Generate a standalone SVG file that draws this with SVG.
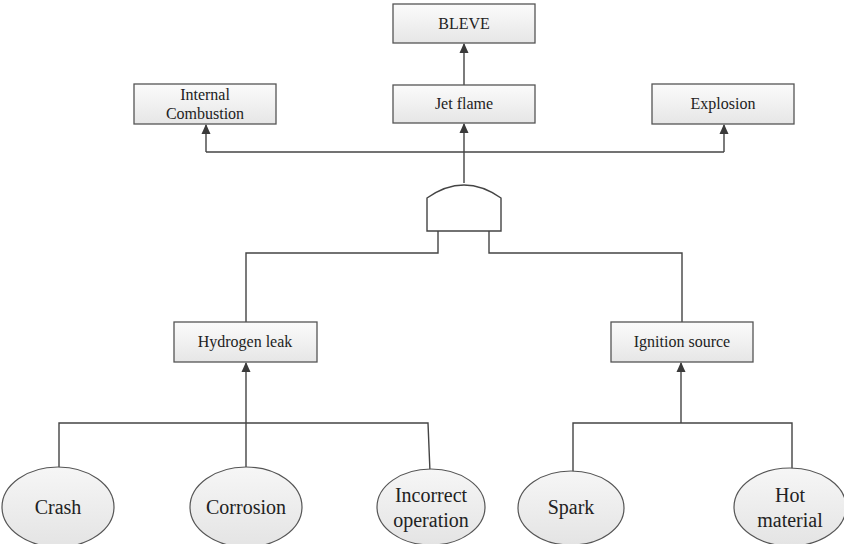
<svg xmlns="http://www.w3.org/2000/svg" width="844" height="544" viewBox="0 0 844 544">
<defs>
<linearGradient id="bg" x1="0" y1="0" x2="0" y2="1"><stop offset="0" stop-color="#fbfbfb"/><stop offset="1" stop-color="#e6e6e6"/></linearGradient>
<linearGradient id="eg" x1="0" y1="0" x2="0" y2="1"><stop offset="0" stop-color="#f6f6f6"/><stop offset="1" stop-color="#e4e4e4"/></linearGradient>
<marker id="arr" markerWidth="10" markerHeight="10" refX="9" refY="5" orient="auto" markerUnits="userSpaceOnUse"><path d="M0,0.5 L10,5 L0,9.5 Z" fill="#3a3a3a"/></marker>
</defs>
<style>
.box{fill:url(#bg);stroke:#555;stroke-width:1.3}
.ell{fill:url(#eg);stroke:#555;stroke-width:1.2}
text{font-family:'Liberation Serif','DejaVu Serif',serif;fill:#222;text-anchor:middle}
.t{font-size:16px}
.te{font-size:20px}
.c{fill:none;stroke:#444;stroke-width:1.4}
.a{fill:none;stroke:#444;stroke-width:1.4;marker-end:url(#arr)}
</style>
<rect width="844" height="544" fill="#fff"/>
<g id="connectors">
<path class="a" d="M464,85 L464,44"/>
<path class="a" d="M464,183 L464,124"/>
<path class="c" d="M206,152 L724,152"/>
<path class="a" d="M206,152 L206,125"/>
<path class="a" d="M724,152 L724,125"/>
<path class="c" d="M438,231 L438,253 L246,253 L246,322"/>
<path class="c" d="M489,231 L489,253 L682,253 L682,322"/>
<path class="a" d="M246,423 L246,363"/>
<path class="c" d="M59,472 L59,423 L428,423 L430,472"/>
<path class="c" d="M246,423 L246,472"/>
<path class="a" d="M681,423 L681,363"/>
<path class="c" d="M573,472 L573,423 L792,423 L792,472"/>
</g>
<g id="gate">
<path d="M427,231 L427,198 Q464,172 501,198 L501,231 Z" fill="#fff" stroke="#444" stroke-width="1.4"/>
</g>
<g id="bleve"><rect class="box" x="393" y="4" width="142" height="39"/><text class="t" x="464" y="29" font-family="Liberation Serif, serif">BLEVE</text></g>
<g id="jetflame"><rect class="box" x="393" y="85" width="142" height="38"/><text class="t" x="464" y="109">Jet flame</text></g>
<g id="internal"><rect class="box" x="134" y="84" width="142" height="40"/><text class="t" x="205" y="100">Internal</text><text class="t" x="205" y="119">Combustion</text></g>
<g id="explosion"><rect class="box" x="652" y="84" width="142" height="40"/><text class="t" x="723" y="109">Explosion</text></g>
<g id="hydrogen"><rect class="box" x="174" y="322" width="143" height="40"/><text class="t" x="245" y="347">Hydrogen leak</text></g>
<g id="ignition"><rect class="box" x="611" y="322" width="142" height="40"/><text class="t" x="682" y="347">Ignition source</text></g>
<g id="crash"><ellipse class="ell" cx="58" cy="507" rx="56" ry="40"/><text class="te" x="58" y="514">Crash</text></g>
<g id="corrosion"><ellipse class="ell" cx="246" cy="507" rx="56" ry="40"/><text class="te" x="246" y="514">Corrosion</text></g>
<g id="incorrect"><ellipse class="ell" cx="431" cy="507" rx="54" ry="38"/><text class="te" x="431" y="502">Incorrect</text><text class="te" x="431" y="527">operation</text></g>
<g id="spark"><ellipse class="ell" cx="571" cy="508" rx="53" ry="37"/><text class="te" x="571" y="514">Spark</text></g>
<g id="hot"><ellipse class="ell" cx="790" cy="507" rx="56" ry="39"/><text class="te" x="790" y="502">Hot</text><text class="te" x="790" y="527">material</text></g>
</svg>
